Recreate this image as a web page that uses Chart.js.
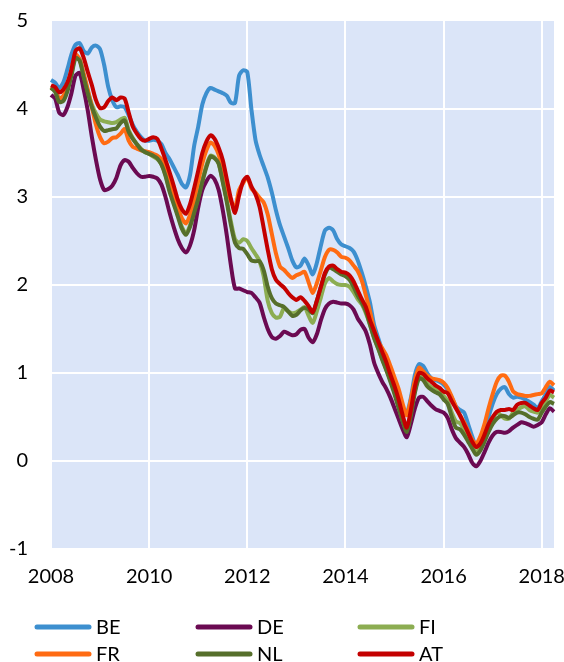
<!DOCTYPE html>
<html lang="en">
  <head>
    <meta charset="UTF-8" />
    <title>Bond yields</title>
    <style>
      html, body { margin: 0; padding: 0; background: #fff; }
      .wrap { width: 564px; height: 662px; }
    </style>
  </head>
  <body>
    <div class="wrap"><canvas id="chart" width="564" height="662"></canvas></div>
    <script src="https://cdn.jsdelivr.net/npm/chart.js"></script>
    <script>
      // monthly, Jan 2008 .. Apr 2018
      const yearTicks = ["2008", "2010", "2012", "2014", "2016", "2018"];

      const BE = [4.33,4.30,4.24,4.30,4.45,4.62,4.73,4.75,4.66,4.63,4.70,4.72,
        4.68,4.50,4.25,4.10,4.02,4.03,4.02,3.93,3.82,3.74,3.68,3.64,
        3.64,3.65,3.64,3.60,3.50,3.43,3.34,3.25,3.15,3.11,3.25,3.58,
        3.80,4.05,4.18,4.24,4.22,4.20,4.18,4.15,4.07,4.07,4.38,4.44,
        4.42,4.00,3.65,3.48,3.35,3.22,3.05,2.85,2.68,2.55,2.42,2.28,
        2.20,2.22,2.30,2.22,2.12,2.25,2.45,2.62,2.65,2.62,2.52,2.46,
        2.44,2.42,2.38,2.28,2.14,1.98,1.80,1.55,1.40,1.26,1.14,1.00,
        0.86,0.74,0.60,0.55,0.72,0.98,1.10,1.08,1.00,0.94,0.92,0.90,
        0.87,0.81,0.72,0.62,0.58,0.55,0.42,0.28,0.16,0.22,0.32,0.50,
        0.65,0.76,0.82,0.84,0.76,0.72,0.73,0.72,0.70,0.67,0.64,0.60,
        0.68,0.76,0.84,0.80];

      const DE = [4.16,4.12,3.96,3.93,4.02,4.18,4.38,4.41,4.22,3.98,3.68,3.42,
        3.20,3.08,3.09,3.13,3.22,3.36,3.42,3.40,3.33,3.27,3.23,3.23,
        3.24,3.23,3.21,3.14,3.00,2.82,2.66,2.52,2.42,2.37,2.45,2.62,
        2.88,3.08,3.18,3.24,3.20,3.08,2.85,2.56,2.22,1.96,1.96,1.94,
        1.92,1.91,1.86,1.80,1.64,1.50,1.41,1.39,1.42,1.47,1.45,1.43,
        1.44,1.49,1.50,1.40,1.35,1.44,1.60,1.73,1.79,1.81,1.80,1.79,
        1.79,1.77,1.72,1.62,1.55,1.47,1.32,1.12,1.00,0.90,0.82,0.72,
        0.60,0.48,0.36,0.27,0.42,0.60,0.72,0.73,0.68,0.63,0.59,0.57,
        0.55,0.49,0.36,0.26,0.21,0.16,0.08,-0.02,-0.06,0.00,0.10,0.21,
        0.29,0.33,0.33,0.32,0.34,0.38,0.41,0.44,0.43,0.41,0.39,0.41,
        0.44,0.53,0.60,0.56];

      const FI = [4.25,4.20,4.10,4.10,4.22,4.40,4.60,4.57,4.38,4.20,4.05,3.95,
        3.88,3.86,3.85,3.84,3.85,3.88,3.90,3.76,3.67,3.60,3.55,3.51,
        3.49,3.46,3.43,3.37,3.25,3.08,2.94,2.80,2.66,2.59,2.68,2.84,
        3.00,3.19,3.36,3.47,3.45,3.38,3.18,2.96,2.72,2.52,2.48,2.52,
        2.50,2.42,2.35,2.27,2.10,1.82,1.68,1.63,1.64,1.74,1.70,1.68,
        1.69,1.72,1.75,1.65,1.57,1.70,1.86,2.02,2.08,2.04,2.01,2.00,
        2.00,1.98,1.92,1.84,1.78,1.68,1.55,1.40,1.28,1.16,1.04,0.92,
        0.78,0.62,0.46,0.35,0.55,0.80,0.97,0.95,0.88,0.84,0.82,0.80,
        0.74,0.68,0.55,0.45,0.43,0.36,0.28,0.18,0.10,0.15,0.27,0.38,
        0.48,0.55,0.52,0.48,0.48,0.55,0.58,0.61,0.62,0.58,0.56,0.55,
        0.62,0.68,0.75,0.72];

      const FR = [4.25,4.22,4.12,4.15,4.25,4.45,4.62,4.56,4.40,4.22,4.02,3.82,
        3.68,3.61,3.63,3.67,3.68,3.72,3.77,3.64,3.57,3.55,3.53,3.52,
        3.51,3.49,3.47,3.43,3.32,3.17,3.02,2.88,2.76,2.70,2.80,2.97,
        3.18,3.38,3.53,3.62,3.58,3.48,3.32,3.12,2.95,2.88,3.08,3.16,
        3.22,3.10,3.05,2.99,2.94,2.80,2.58,2.36,2.21,2.17,2.12,2.08,
        2.11,2.13,2.15,2.03,1.91,2.02,2.17,2.32,2.40,2.40,2.37,2.32,
        2.31,2.28,2.22,2.16,2.05,1.88,1.70,1.50,1.36,1.28,1.20,1.08,
        0.95,0.82,0.65,0.52,0.70,0.92,1.06,1.02,0.97,0.94,0.93,0.92,
        0.89,0.83,0.73,0.62,0.52,0.44,0.34,0.24,0.20,0.28,0.42,0.60,
        0.76,0.90,0.97,0.97,0.90,0.79,0.76,0.75,0.74,0.74,0.75,0.76,
        0.77,0.84,0.90,0.86];

      const NL = [4.24,4.20,4.08,4.09,4.20,4.38,4.58,4.55,4.36,4.18,4.02,3.90,
        3.80,3.75,3.76,3.77,3.78,3.84,3.87,3.74,3.66,3.60,3.54,3.51,
        3.49,3.47,3.44,3.37,3.24,3.06,2.92,2.78,2.64,2.57,2.66,2.82,
        2.98,3.17,3.34,3.46,3.44,3.38,3.17,2.94,2.68,2.48,2.42,2.41,
        2.35,2.28,2.27,2.27,2.17,1.98,1.85,1.79,1.77,1.75,1.70,1.65,
        1.66,1.71,1.74,1.72,1.68,1.82,1.98,2.12,2.20,2.18,2.15,2.12,
        2.10,2.06,1.98,1.88,1.80,1.70,1.55,1.40,1.28,1.15,1.03,0.90,
        0.76,0.60,0.45,0.33,0.52,0.78,0.94,0.92,0.85,0.81,0.78,0.76,
        0.70,0.65,0.50,0.38,0.36,0.30,0.22,0.14,0.07,0.12,0.22,0.33,
        0.42,0.48,0.51,0.51,0.49,0.52,0.55,0.55,0.53,0.50,0.48,0.47,
        0.55,0.62,0.67,0.65];

      const AT = [4.27,4.25,4.19,4.22,4.30,4.45,4.66,4.69,4.58,4.42,4.27,4.10,
        4.01,4.02,4.09,4.13,4.10,4.13,4.12,3.96,3.80,3.72,3.66,3.64,
        3.66,3.68,3.66,3.55,3.42,3.28,3.13,2.97,2.86,2.81,2.92,3.10,
        3.30,3.50,3.63,3.70,3.66,3.56,3.42,3.20,2.98,2.82,3.02,3.18,
        3.23,3.12,3.03,2.89,2.65,2.40,2.18,2.06,2.01,1.97,1.91,1.86,
        1.83,1.86,1.82,1.76,1.69,1.82,1.98,2.14,2.21,2.22,2.18,2.15,
        2.14,2.11,2.04,1.94,1.84,1.75,1.60,1.48,1.36,1.24,1.12,0.98,
        0.85,0.70,0.52,0.38,0.58,0.85,1.00,0.99,0.94,0.90,0.86,0.83,
        0.79,0.77,0.68,0.60,0.52,0.42,0.32,0.22,0.16,0.20,0.30,0.42,
        0.50,0.56,0.58,0.58,0.59,0.58,0.64,0.66,0.66,0.63,0.60,0.58,
        0.66,0.72,0.80,0.78];

      const seriesNames = ["BE", "DE", "FI", "FR", "NL", "AT"];
      const seriesColors = ["#3d8fcf", "#6b0a52", "#8cad52", "#ff6b12", "#566f2b", "#c40000"];
      const seriesValues = [BE, DE, FI, FR, NL, AT];
      // AT drawn on top, BE at the bottom
      const drawOrder = [6, 5, 4, 3, 2, 1];

      const months = [];
      for (let i = 0; i < BE.length; i++) {
        months.push((2008 + Math.floor(i / 12)) + "-" + String((i % 12) + 1).padStart(2, "0"));
      }

      const FONT = "Lato, 'Open Sans', sans-serif";

      const plotBackground = {
        id: "plotBackground",
        beforeDraw(chart) {
          const { ctx, chartArea } = chart;
          ctx.save();
          ctx.fillStyle = "#dbe5f8";
          ctx.fillRect(chartArea.left, chartArea.top, chartArea.right - chartArea.left, chartArea.bottom - chartArea.top);
          ctx.restore();
        },
      };

      // legend in 3 columns x 2 rows under the axis
      const gridLegend = {
        id: "gridLegend",
        afterDraw(chart) {
          const ctx = chart.ctx;
          const colX = [37, 198, 360];
          const rowY = [627, 654];
          ctx.save();
          ctx.font = "20px " + FONT;
          ctx.textBaseline = "middle";
          ctx.fillStyle = "#000";
          chart.data.datasets.forEach((ds, i) => {
            const x = colX[i % 3];
            const y = rowY[Math.floor(i / 3)];
            ctx.strokeStyle = ds.borderColor;
            ctx.lineWidth = 5;
            ctx.lineCap = "round";
            ctx.beginPath();
            ctx.moveTo(x, y);
            ctx.lineTo(x + 52, y);
            ctx.stroke();
            ctx.fillText(ds.label, x + 59, y + 1);
          });
          ctx.restore();
        },
      };

      new Chart(document.getElementById("chart"), {
        type: "line",
        data: {
          labels: months,
          datasets: seriesNames.map((name, i) => ({
            label: name,
            data: seriesValues[i],
            borderColor: seriesColors[i],
            backgroundColor: seriesColors[i],
            borderWidth: 4,
            pointRadius: 0,
            tension: 0.25,
            fill: false,
            order: drawOrder[i],
          })),
        },
        options: {
          responsive: false,
          animation: false,
          layout: { padding: { top: 21, right: 10, bottom: 75, left: 0 } },
          plugins: {
            legend: { display: false },
            tooltip: { enabled: false },
          },
          scales: {
            x: {
              type: "category",
              offset: false,
              border: { display: false },
              grid: {
                color: "#ffffff",
                lineWidth: 2,
                drawTicks: false,
              },
              ticks: {
                autoSkip: false,
                maxRotation: 0,
                padding: 16,
                color: "#000",
                font: { family: FONT, size: 20 },
                callback: (value, index) => (index % 24 === 0 ? yearTicks[index / 24] : null),
              },
              afterFit: (scale) => {
                scale.height = 38;
                scale.paddingLeft = 0;
                scale.paddingRight = 0;
              },
            },
            y: {
              min: -1,
              max: 5,
              border: { display: false },
              grid: {
                color: (c) => (c.tick && c.tick.value === 5 ? "rgba(0,0,0,0)" : "#ffffff"),
                lineWidth: 2,
                drawTicks: false,
              },
              ticks: {
                stepSize: 1,
                padding: 23,
                color: "#000",
                font: { family: FONT, size: 20 },
              },
              afterFit: (scale) => {
                scale.width = 51;
                scale.paddingTop = 0;
                scale.paddingBottom = 0;
              },
            },
          },
        },
        plugins: [plotBackground, gridLegend],
      });
    </script>
  </body>
</html>
